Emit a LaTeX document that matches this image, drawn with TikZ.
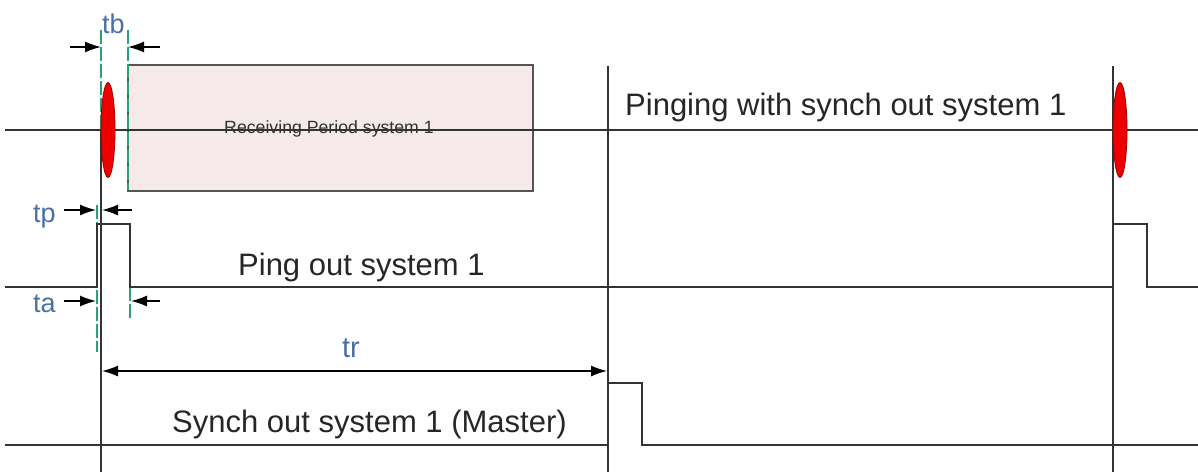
\documentclass[tikz,border=0pt]{standalone}
\usepackage{fontspec}
\setmainfont{Liberation Sans}
\usetikzlibrary{shapes.geometric,arrows.meta}
\definecolor{sig}{HTML}{333333}
\definecolor{lbl}{HTML}{4A6FA5}
\definecolor{guide}{HTML}{2FA070}
\definecolor{boxfill}{HTML}{F6E9E9}
\definecolor{boxline}{HTML}{555555}
\definecolor{pingred}{HTML}{EE0000}
\tikzset{
  signal/.style={draw=sig, line width=1.6pt},
  guideline/.style={draw=guide, line width=1.1pt, dash pattern=on 14pt off 3pt},
  tip/.tip={Latex[length=16pt,width=11pt]},
  dim/.style={draw=black, line width=1.4pt, -tip},
  bigtext/.style={font=\fontsize{31}{36}\selectfont, text=black!85, inner sep=0pt, anchor=base west},
  timelabel/.style={font=\fontsize{27}{32}\selectfont, text=lbl, inner sep=0pt, anchor=base west},
  pingmark/.style={ellipse, draw=red!60!black, line width=0.8pt, fill=pingred, minimum width=14pt, minimum height=95pt, inner sep=0pt},
}
\begin{document}
\begin{tikzpicture}[x=1pt,y=-1pt]
\useasboundingbox (0,0) rectangle (1198,472);
% receiving period box
\node[draw=boxline, line width=1.6pt, fill=boxfill, minimum width=405pt, minimum height=126pt, inner sep=0pt, anchor=north west] (box) at (127,64) {};
\node[font=\fontsize{17.7}{20}\selectfont, text=black!80, inner sep=0pt, anchor=base] (rectext) at (329,133) {Receiving Period system 1};
% green guide lines
\coordinate (g1t) at (101,30); \coordinate (g1b) at (101,466);
\coordinate (g2t) at (128,30); \coordinate (g2b) at (128,190);
\coordinate (g3t) at (130,287); \coordinate (g3b) at (130,318);
\coordinate (g4t) at (97,205); \coordinate (g4b) at (97,352);
\coordinate (g5t) at (608,345); \coordinate (g5b) at (608,392);
\draw[guideline] (g1t) -- (g1b);
\draw[guideline] (g2t) -- (g2b);
\draw[guideline] (g3t) -- (g3b);
\draw[guideline] (g4t) -- (g4b);
\draw[guideline] (g5t) -- (g5b);
% vertical markers
\coordinate (v1t) at (101,130); \coordinate (v1b) at (101,472);
\coordinate (v2t) at (608,66); \coordinate (v2b) at (608,472);
\coordinate (v3t) at (1113,66); \coordinate (v3b) at (1113,472);
\draw[signal] (v1t) -- (v1b);
\draw[signal] (v2t) -- (v2b);
\draw[signal] (v3t) -- (v3b);
% pinging line
\coordinate (p0) at (5,130); \coordinate (p1) at (1198,130);
\draw[signal] (p0) -- (p1);
\node[pingmark] (e1) at (108,130) {};
\node[pingmark] (e2) at (1120,130) {};
\node[bigtext] (pingtxt) at (625,115) {Pinging with synch out system 1};
% ping out signal
\coordinate (a0) at (5,287); \coordinate (a1) at (97,287); \coordinate (a2) at (97,224);
\coordinate (a3) at (130,224); \coordinate (a4) at (130,287); \coordinate (a5) at (1113,287);
\coordinate (a6) at (1113,224); \coordinate (a7) at (1147,224); \coordinate (a8) at (1147,287);
\coordinate (a9) at (1198,287);
\draw[signal] (a0) -- (a1) -- (a2) -- (a3) -- (a4) -- (a5) -- (a6) -- (a7) -- (a8) -- (a9);
\node[bigtext] (pouttxt) at (238,275) {Ping out system 1};
% synch out signal
\coordinate (s0) at (5,445); \coordinate (s1) at (608,445); \coordinate (s2) at (608,383);
\coordinate (s3) at (642,383); \coordinate (s4) at (642,445); \coordinate (s5) at (1198,445);
\draw[signal] (s0) -- (s1) -- (s2) -- (s3) -- (s4) -- (s5);
\node[bigtext] (souttxt) at (172,432) {Synch out system 1 (Master)};
% tb
\node[timelabel] (tb) at (102,33) {tb};
\coordinate (tbl0) at (70,47); \coordinate (tbl1) at (101,47);
\coordinate (tbr0) at (160,47); \coordinate (tbr1) at (128,47);
\draw[dim] (tbl0) -- (tbl1);
\draw[dim] (tbr0) -- (tbr1);
% tp
\node[timelabel] (tp) at (33,222) {tp};
\coordinate (tpl0) at (64,210); \coordinate (tpl1) at (96,210);
\coordinate (tpr0) at (132,210); \coordinate (tpr1) at (102,210);
\draw[dim] (tpl0) -- (tpl1);
\draw[dim] (tpr0) -- (tpr1);
% ta
\node[timelabel] (ta) at (33,312) {ta};
\coordinate (tal0) at (64,301); \coordinate (tal1) at (96,301);
\coordinate (tar0) at (160,301); \coordinate (tar1) at (131,301);
\draw[dim] (tal0) -- (tal1);
\draw[dim] (tar0) -- (tar1);
% tr
\node[font=\fontsize{29}{34}\selectfont, text=lbl, inner sep=0pt, anchor=base] (tr) at (351,357) {tr};
\coordinate (trl) at (102,371); \coordinate (trr) at (607,371);
\draw[draw=black, line width=1.4pt, tip-tip] (trl) -- (trr);
\end{tikzpicture}
\end{document}
